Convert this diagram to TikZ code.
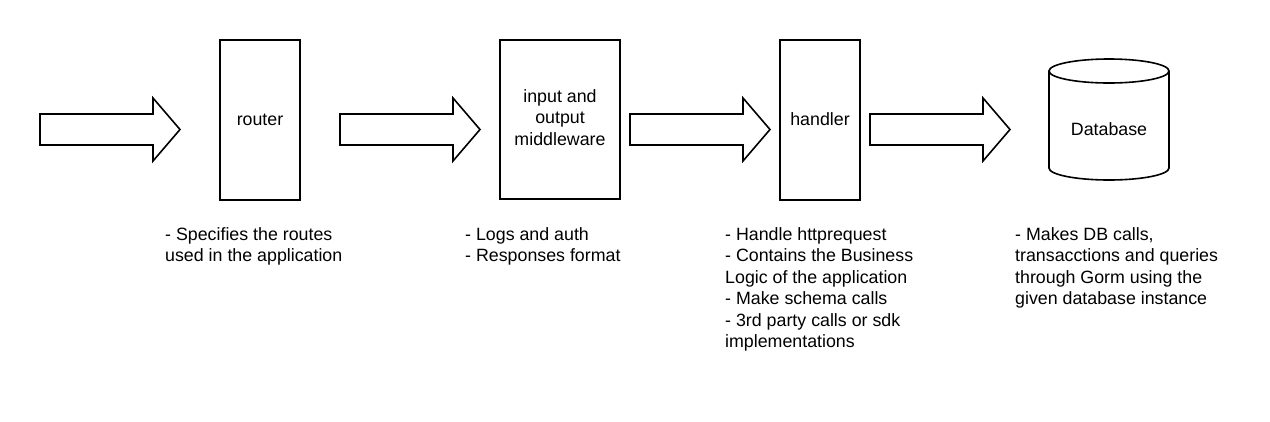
\documentclass[tikz,border=0pt]{standalone}
\usepackage{fontspec}
\setmainfont{Liberation Sans}
\begin{document}
\begin{tikzpicture}[x=1pt,y=-1pt,
  box/.style={draw,line width=1.6pt},
  blockarrow/.style={draw,line width=1.6pt,line join=miter},
  lbl/.style={inner sep=0pt,font=\fontsize{17.8}{21.5}\selectfont},
  note/.style={inner sep=0pt,anchor=base west,align=left,font=\fontsize{17.8}{21.5}\selectfont}]
\useasboundingbox[fill=white] (0,0) rectangle (1270,421);
% boxes
\draw[box] (220,40) rectangle (300,200);
\draw[box] (500,40) rectangle (620,199);
\draw[box] (780,40) rectangle (860,200);
% cylinder
\draw[box] (1049,71) -- (1049,168) arc[start angle=180,end angle=360,x radius=60,y radius=-12] -- (1169,71);
\draw[box] (1109,71) ellipse[x radius=60,y radius=12];
% block arrows
\foreach \x in {40,340,630,870}{
  \draw[blockarrow] (\x,114) -- (\x+113,114) -- (\x+113,98) -- (\x+140,129.5) -- (\x+113,161) -- (\x+113,145) -- (\x,145) -- cycle;
}
% labels
\node[lbl,anchor=base] (routerlbl) at (260,125) {router};
\node[lbl,anchor=base] (mwl1) at (560,102) {input and};
\node[lbl,anchor=base] (mwl2) at (560,123.5) {output};
\node[lbl,anchor=base] (mwl3) at (560,145) {middleware};
\node[lbl,anchor=base] (handlerlbl) at (820,125) {handler};
\node[lbl,anchor=base] (dblbl) at (1109,135) {Database};
% notes (anchor = baseline of last line)
\node[note] (n1) at (165,261.5) {- Specifies the routes\\used in the application};
\node[note] (n2) at (465,261.5) {- Logs and auth\\- Responses format};
\node[note] (n3) at (725,347.5) {- Handle httprequest\\- Contains the Business\\Logic of the application\\- Make schema calls\\- 3rd party calls or sdk\\implementations};
\node[note] (n4) at (1015,304.5) {- Makes DB calls,\\transacctions and queries\\through Gorm using the\\given database instance};
\end{tikzpicture}
\end{document}
